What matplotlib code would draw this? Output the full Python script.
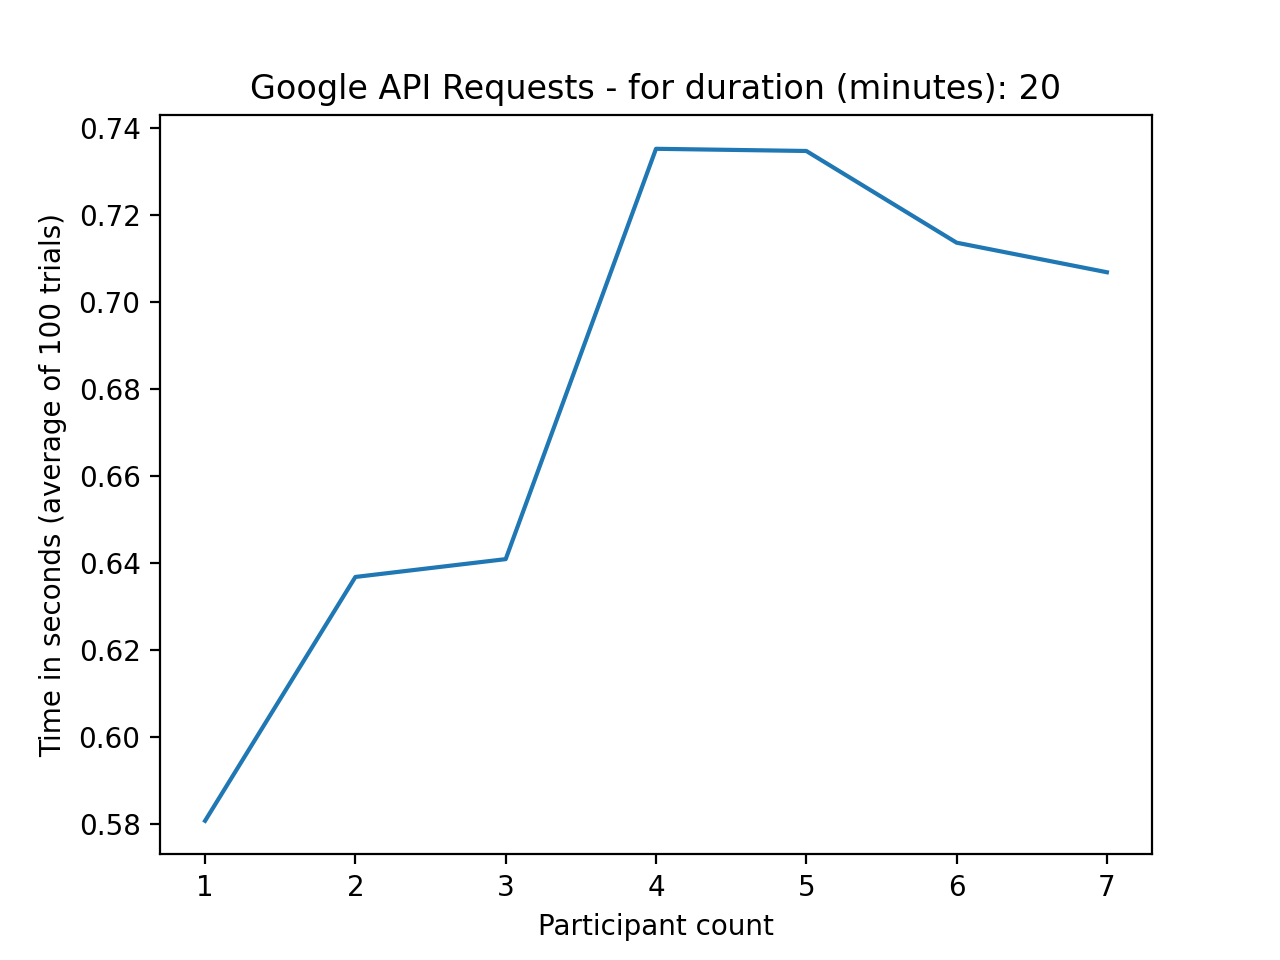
import matplotlib
matplotlib.use('Agg')
import matplotlib.pyplot as plt

participants = [1, 2, 3, 4, 5, 6, 7]
avg_time = [0.5807, 0.6368, 0.6409, 0.7353, 0.7348, 0.7137, 0.7069]

plt.figure(figsize=(6.4, 4.8))
plt.plot(participants, avg_time)
plt.title('Google API Requests - for duration (minutes): 20')
plt.xlabel('Participant count')
plt.ylabel('Time in seconds (average of 100 trials)')
plt.savefig('out.png', dpi=200)
